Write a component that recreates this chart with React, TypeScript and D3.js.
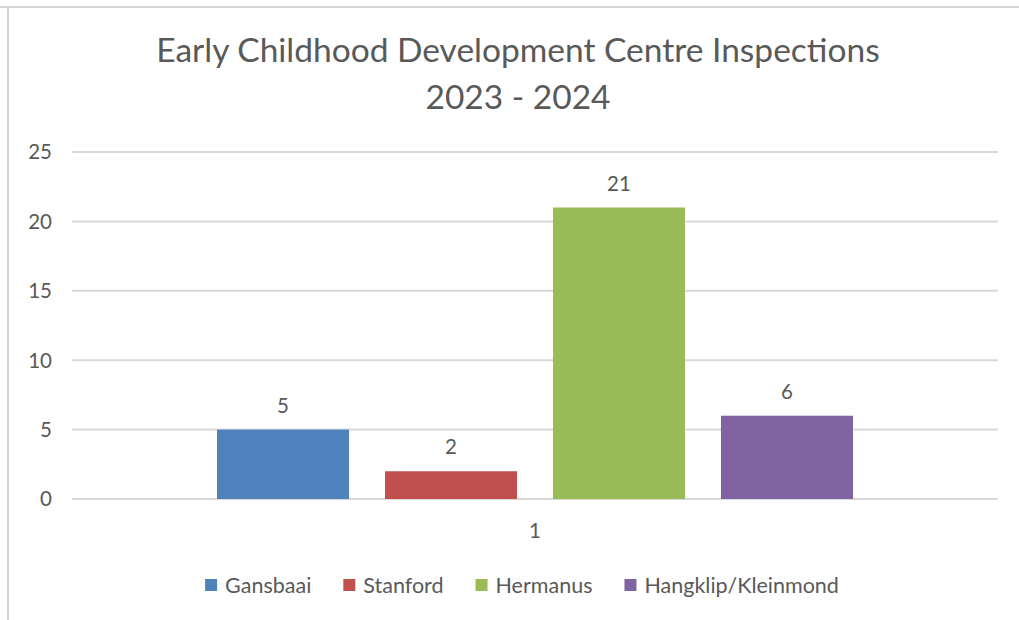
import React, { useLayoutEffect, useRef, useState } from 'react'
import * as d3 from 'd3'

const width = 1019
const height = 620

const titleLines = ['Early Childhood Development Centre Inspections', '2023 - 2024']
const categories = ['1']
const seriesNames = ['Gansbaai', 'Stanford', 'Hermanus', 'Hangklip/Kleinmond']
const seriesValues = [5, 2, 21, 6]
const seriesColors = ['#4F81BD', '#C0504D', '#9BBB59', '#8064A2']
const yTicks = [0, 5, 10, 15, 20, 25]

const font = 'Lato, "Open Sans", sans-serif'
const textColor = '#595959'

const plot = { left: 72, right: 998, top: 152, bottom: 499 }

const App = () => {
  const legendRefs = useRef<(SVGTextElement | null)[]>([])
  const [legendWidths, setLegendWidths] = useState<number[]>(seriesNames.map(s => s.length * 10))

  useLayoutEffect(() => {
    const w = legendRefs.current.map(el => (el ? el.getComputedTextLength() : 0))
    setLegendWidths(w)
  }, [])

  const yScale = d3.scaleLinear().domain([0, 25]).range([plot.bottom, plot.top])

  const xScale = d3.scaleBand<string>()
    .domain(categories)
    .range([plot.left, plot.right])
    .paddingInner(0)
    .paddingOuter(0.228)

  const seriesScale = d3.scaleBand<string>()
    .domain(seriesNames)
    .range([0, xScale.bandwidth()])
    .paddingInner(0.214)
    .paddingOuter(0)

  // legend layout: square, gap, label, spacing
  const sq = 12
  const sqGap = 8
  const itemGap = 32
  const itemWidths = legendWidths.map(w => sq + sqGap + w)
  const legendTotal = d3.sum(itemWidths) + itemGap * (seriesNames.length - 1)
  const legendStart = 522 - legendTotal / 2
  const legendX = itemWidths.map((_, i) => legendStart + d3.sum(itemWidths.slice(0, i)) + itemGap * i)
  const legendY = 585

  return (
    <svg width={width} height={height} style={{ position: 'absolute', left: 0, top: 0 }} fontFamily={font}>
      <rect x={0} y={0} width={width} height={height} fill="#fff" />
      {/* chart frame */}
      <line x1={0} x2={width} y1={7} y2={7} stroke="#d4d4d4" strokeWidth={2} />
      <line x1={8} x2={8} y1={7} y2={height} stroke="#d4d4d4" strokeWidth={2} />

      {titleLines.map((t, i) => (
        <text key={t} x={518} y={62 + i * 47} textAnchor="middle" fontSize={33.5} fill={textColor}>
          {t}
        </text>
      ))}

      {yTicks.map(t => (
        <g key={t}>
          <line x1={plot.left} x2={plot.right} y1={yScale(t)} y2={yScale(t)} stroke="#d9d9d9" strokeWidth={2} />
          <text x={52} y={yScale(t)} dy="0.36em" textAnchor="end" fontSize={20.5} fill={textColor}>
            {t}
          </text>
        </g>
      ))}

      {categories.map(c => (
        <g key={c}>
          {seriesNames.map((s, i) => {
            const x = (xScale(c) ?? 0) + (seriesScale(s) ?? 0)
            const y = yScale(seriesValues[i])
            return (
              <g key={s}>
                <rect x={x} y={y} width={seriesScale.bandwidth()} height={yScale(0) - y} fill={seriesColors[i]} />
                <text x={x + seriesScale.bandwidth() / 2} y={y - 17} textAnchor="middle" fontSize={20.5} fill={textColor}>
                  {seriesValues[i]}
                </text>
              </g>
            )
          })}
          <text x={(xScale(c) ?? 0) + xScale.bandwidth() / 2} y={538} textAnchor="middle" fontSize={20.5} fill={textColor}>
            {c}
          </text>
        </g>
      ))}

      {seriesNames.map((s, i) => (
        <g key={s} transform={`translate(${legendX[i]},${legendY})`}>
          <rect x={0} y={-sq / 2} width={sq} height={sq} fill={seriesColors[i]} />
          <text
            ref={el => { legendRefs.current[i] = el }}
            x={sq + sqGap}
            y={0}
            dy="0.36em"
            fontSize={21.5}
            fill={textColor}
          >
            {s}
          </text>
        </g>
      ))}
    </svg>
  )
}

export default App
